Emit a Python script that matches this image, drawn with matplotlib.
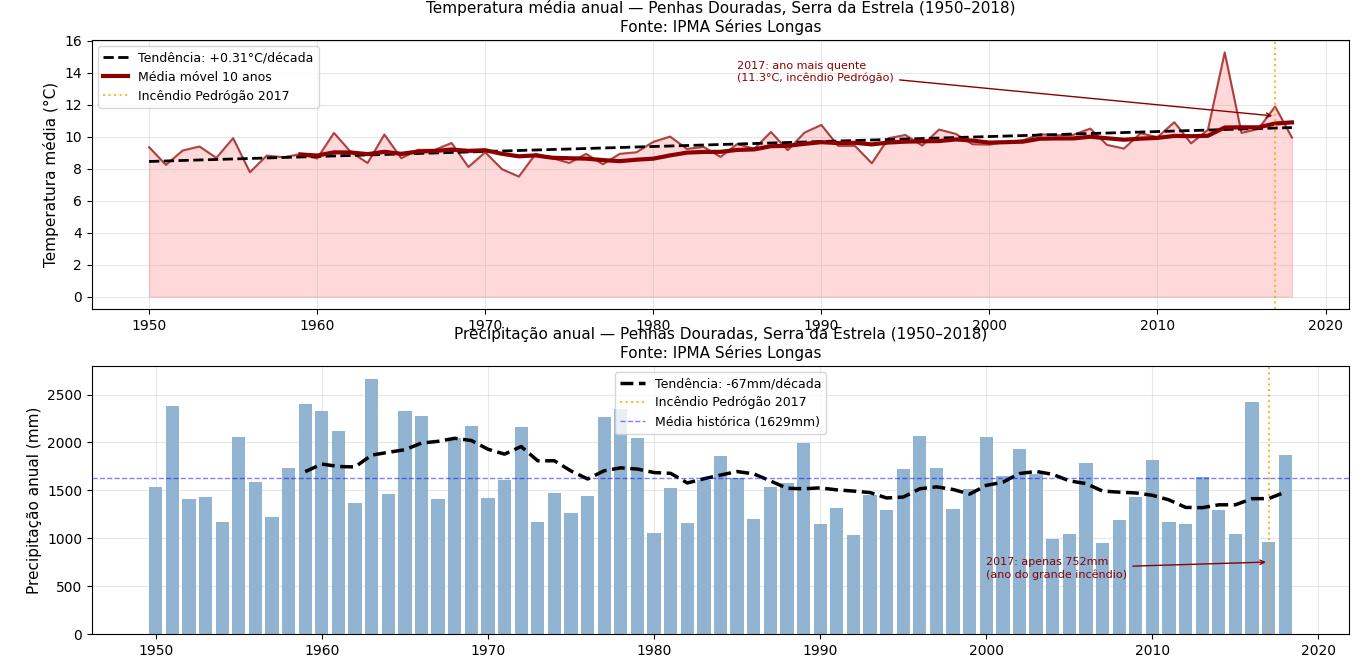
import numpy as np
import pandas as pd
import matplotlib
matplotlib.use("Agg")
import matplotlib.pyplot as plt

years = list(range(1950, 2019))

temperature = [
    9.36, 8.25, 9.15, 9.40, 8.69, 9.92, 7.79, 8.83, 8.73, 8.92,
    8.65, 10.25, 9.06, 8.37, 10.15, 8.67, 9.19, 9.19, 9.62, 8.12,
    9.04, 7.98, 7.52, 8.94, 8.67, 8.37, 8.94, 8.29, 8.94, 9.04,
    9.69, 10.02, 9.25, 9.37, 8.75, 9.56, 9.25, 10.31, 9.17, 10.27,
    10.75, 9.44, 9.44, 8.35, 9.92, 10.12, 9.46, 10.46, 10.19, 9.54,
    9.52, 9.69, 9.78, 10.17, 10.10, 10.13, 10.52, 9.50, 9.27, 10.23,
    9.98, 10.92, 9.60, 10.44, 15.29, 10.25, 10.50, 11.90, 9.96,
]

precipitation = [
    1538, 2385, 1412, 1433, 1172, 2061, 1590, 1224, 1736, 2406,
    2333, 2123, 1370, 2667, 1464, 2333, 2280, 1412, 2050, 2176,
    1422, 1610, 2165, 1172, 1475, 1266, 1443, 2270, 2354, 2050,
    1056, 1527, 1161, 1610, 1862, 1632, 1203, 1538, 1580, 1998,
    1151, 1318, 1036, 1454, 1297, 1726, 2071, 1736, 1307, 1517,
    2061, 1653, 1935, 1674, 994, 1046, 1789, 952, 1192, 1433,
    1820, 1172, 1151, 1642, 1297, 1046, 2427, 962, 1872,
]

fire_year = 2017
hist_mean = 1629
temp_label = "Tendência: +0.31°C/década"
prec_label = "Tendência: -67mm/década"

yrs = np.array(years)
temp = pd.Series(temperature, index=years)
prec = pd.Series(precipitation, index=years)

fig = plt.figure(figsize=(13.66, 6.63), dpi=100)
ax1 = fig.add_axes([0.0673, 0.534, 0.9203, 0.4055])
ax2 = fig.add_axes([0.0673, 0.0437, 0.9203, 0.4045])

# --- Temperature ---
ax1.fill_between(yrs, temp.values, 0, color="red", alpha=0.15)
ax1.plot(yrs, temp.values, color="darkred", alpha=0.7, lw=1.5)
coef = np.polyfit(yrs, temp.values, 1)
ax1.plot(yrs, np.polyval(coef, yrs), "k--", lw=2, label=temp_label)
ax1.plot(yrs, temp.rolling(10).mean().values, color="darkred", lw=3,
         label="Média móvel 10 anos")
ax1.axvline(fire_year, color="orange", ls=":", lw=1.5, alpha=0.8,
            label="Incêndio Pedrógão 2017")
ax1.annotate("2017: ano mais quente\n(11.3°C, incêndio Pedrógão)",
             xy=(2017, 11.3), xytext=(1985, 13.5), fontsize=8, color="darkred",
             arrowprops=dict(arrowstyle="->", color="darkred", lw=1))
ax1.set_ylabel("Temperatura média (°C)", fontsize=11)
ax1.set_title("Temperatura média anual — Penhas Douradas, Serra da Estrela (1950–2018)\n"
              "Fonte: IPMA Séries Longas", fontsize=11)
ax1.legend(loc="upper left", fontsize=9)
ax1.grid(True, alpha=0.3)

# --- Precipitation ---
ax2.bar(yrs, prec.values, color="steelblue", alpha=0.6, width=0.8)
ax2.plot(yrs, prec.rolling(10).mean().values, "k--", lw=2.5, label=prec_label)
ax2.axvline(fire_year, color="orange", ls=":", lw=1.5, alpha=0.8,
            label="Incêndio Pedrógão 2017")
ax2.axhline(hist_mean, color="blue", ls="--", lw=1, alpha=0.5,
            label=f"Média histórica ({hist_mean}mm)")
ax2.annotate("2017: apenas 752mm\n(ano do grande incêndio)",
             xy=(2017, 752), xytext=(2000, 590), fontsize=8, color="darkred",
             arrowprops=dict(arrowstyle="->", color="darkred", lw=1))
ax2.set_ylabel("Precipitação anual (mm)", fontsize=11)
ax2.set_title("Precipitação anual — Penhas Douradas, Serra da Estrela (1950–2018)\n"
              "Fonte: IPMA Séries Longas", fontsize=11)
ax2.legend(loc="upper center", fontsize=9)
ax2.grid(True, alpha=0.3)

fig.savefig("out.png", dpi=100)
